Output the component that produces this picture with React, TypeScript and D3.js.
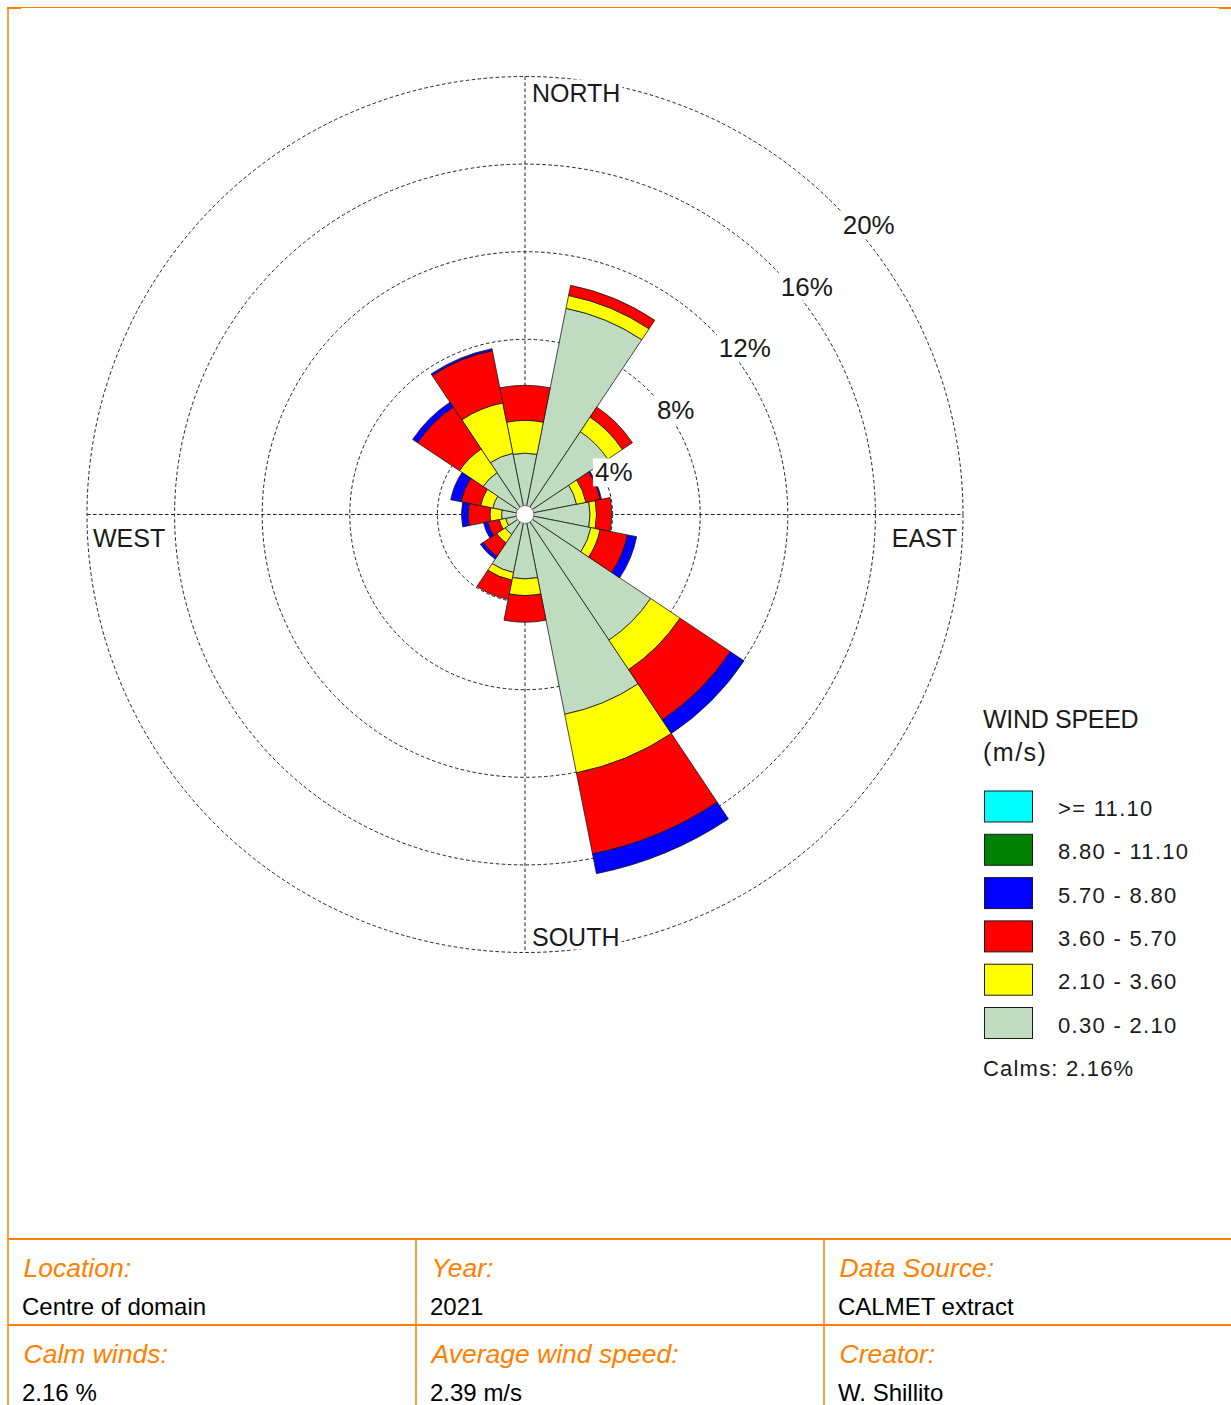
import React, { useEffect, useRef } from 'react';
import * as d3 from 'd3';

// Sixteen compass sectors, clockwise from north
const directions = ['N', 'NNE', 'NE', 'ENE', 'E', 'ESE', 'SE', 'SSE', 'S', 'SSW', 'SW', 'WSW', 'W', 'WNW', 'NW', 'NNW'];

// Wind speed classes (m/s), lowest first
const speedClasses = ['0.30 - 2.10', '2.10 - 3.60', '3.60 - 5.70', '5.70 - 8.80', '8.80 - 11.10', '>= 11.10'];
const classColors = ['#c0dcc0', '#ffff00', '#ff0000', '#0000ff', '#008000', '#00ffff'];

// Frequency (% of hours) per direction for each speed class
const freqClass1 = [2.8, 9.6, 4.55, 2.4, 2.97, 3.07, 6.9, 9.3, 2.94, 2.7, 1.09, 0.9, 1.07, 1.5, 2.3, 2.85];
const freqClass2 = [1.5, 0.6, 0.8, 0.44, 0.3, 0.43, 1.62, 2.73, 0.76, 0.36, 0.47, 0.3, 0.53, 0.57, 1.3, 2.35];
const freqClass3 = [1.6, 0.47, 0.55, 0.66, 0.69, 1.27, 2.76, 3.77, 1.22, 0.89, 0.74, 0.53, 1.0, 0.91, 2.3, 2.43];
const freqClass4 = [0, 0, 0, 0.06, 0, 0.43, 0.75, 0.92, 0, 0, 0.15, 0.2, 0.3, 0.48, 0.27, 0.09];
const freqClass5 = [0, 0, 0, 0, 0, 0, 0, 0, 0, 0, 0, 0, 0, 0, 0, 0];
const freqClass6 = [0, 0, 0, 0, 0, 0, 0, 0, 0, 0, 0, 0, 0, 0, 0, 0];

const ringTicks = [4, 8, 12, 16, 20];
const calmsPct = 2.16;

const infoLabels = ['Location:', 'Year:', 'Data Source:', 'Calm winds:', 'Average wind speed:', 'Creator:'];
const infoValues = ['Centre of domain', '2021', 'CALMET extract', '2.16 %', '2.39 m/s', 'W. Shillito'];

const W = 1231;
const H = 1405;
const FONT = '"Liberation Sans", Arial, Helvetica, sans-serif';
const ORANGE = '#ff7f00';
const INK = '#1a1a1a';

export default function App() {
  const ref = useRef<SVGSVGElement | null>(null);

  useEffect(() => {
    const svg = d3.select(ref.current);
    svg.selectAll('*').remove();

    const cx = 525;
    const cy = 514.5;
    const rMax = 438;
    const r = d3.scaleLinear().domain([0, 20]).range([0, rMax]);
    const step = (2 * Math.PI) / directions.length;

    // ---- frame ----
    const frame = svg.append('g');
    frame.append('line').attr('x1', 8).attr('x2', W).attr('y1', 7.5).attr('y2', 7.5)
      .attr('stroke', ORANGE).attr('stroke-width', 1.2);
    frame.append('line').attr('x1', 8).attr('x2', 8).attr('y1', 7).attr('y2', H)
      .attr('stroke', ORANGE).attr('stroke-width', 1.5);
    frame.append('rect').attr('x', 7).attr('y', 7).attr('width', 14).attr('height', 2).attr('fill', ORANGE);
    frame.append('rect').attr('x', W - 12).attr('y', 7).attr('width', 12).attr('height', 2).attr('fill', ORANGE);

    // ---- polar grid ----
    const plot = svg.append('g').attr('transform', `translate(${cx},${cy})`);
    const gridColor = '#1c1c30';
    const dash = '3.5,2.5';
    plot.selectAll('circle.ring').data(ringTicks).enter().append('circle')
      .attr('class', 'ring')
      .attr('r', (d) => r(d))
      .attr('fill', 'none')
      .attr('stroke', gridColor)
      .attr('stroke-width', 1)
      .attr('stroke-dasharray', dash);
    plot.append('line').attr('x1', 0).attr('x2', 0).attr('y1', -rMax).attr('y2', rMax)
      .attr('stroke', gridColor).attr('stroke-width', 1).attr('stroke-dasharray', dash);
    plot.append('line').attr('x1', -rMax).attr('x2', rMax).attr('y1', 0).attr('y2', 0)
      .attr('stroke', gridColor).attr('stroke-width', 1).attr('stroke-dasharray', dash);

    // ---- petals ----
    const keys = ['c1', 'c2', 'c3', 'c4', 'c5', 'c6'];
    const classArrays = [freqClass1, freqClass2, freqClass3, freqClass4, freqClass5, freqClass6];
    const rows = directions.map((dir, i) => {
      const o: Record<string, any> = { dir, i };
      keys.forEach((k, j) => { o[k] = classArrays[j][i]; });
      return o;
    });
    const stacked = d3.stack<any>().keys(keys)(rows);
    const arc = d3.arc<any>();

    stacked.forEach((layer, li) => {
      plot.append('g').selectAll('path')
        .data(layer.filter((d) => d[1] - d[0] > 0.001))
        .enter().append('path')
        .attr('d', (d: any) => arc({
          innerRadius: r(d[0]),
          outerRadius: r(d[1]),
          startAngle: d.data.i * step - step / 2,
          endAngle: d.data.i * step + step / 2,
        }) as string)
        .attr('fill', classColors[li])
        .attr('stroke', INK)
        .attr('stroke-width', 0.8)
        .attr('stroke-linejoin', 'round');
    });

    // calm circle in the middle
    plot.append('circle').attr('r', 9).attr('fill', '#ffffff').attr('stroke', '#777').attr('stroke-width', 1);

    // ---- ring and compass labels on white boxes ----
    const labelWithBg = (g: any, text: string, x: number, y: number, anchor: string, size: number) => {
      const grp = g.append('g');
      const bg = grp.append('rect').attr('fill', '#ffffff');
      const t = grp.append('text')
        .attr('x', x).attr('y', y)
        .attr('text-anchor', anchor)
        .attr('font-family', FONT)
        .attr('font-size', size)
        .attr('fill', INK)
        .text(text);
      const bb = (t.node() as SVGTextElement).getBBox();
      bg.attr('x', bb.x - 2).attr('y', bb.y + 1).attr('width', bb.width + 4).attr('height', bb.height - 2);
    };

    ringTicks.forEach((d) => {
      const ax = r(d) * Math.SQRT1_2;
      labelWithBg(plot, `${d}%`, ax + 8, -ax + 28.8, 'start', 26);
    });

    labelWithBg(plot, 'NORTH', 7, -rMax + 25, 'start', 25);
    labelWithBg(plot, 'SOUTH', 7, rMax - 7, 'start', 25);
    labelWithBg(plot, 'WEST', -rMax + 6, 32, 'start', 25);
    labelWithBg(plot, 'EAST', rMax - 6, 32, 'end', 25);

    // ---- legend ----
    const lg = svg.append('g');
    lg.append('text').attr('x', 983).attr('y', 727.5)
      .attr('font-family', FONT).attr('font-size', 25).attr('letter-spacing', -0.3)
      .attr('fill', INK).text('WIND SPEED');
    lg.append('text').attr('x', 983).attr('y', 761)
      .attr('font-family', FONT).attr('font-size', 25).attr('letter-spacing', 1.5)
      .attr('fill', INK).text('(m/s)');

    const legendOrder = d3.range(speedClasses.length).reverse();
    const ly = d3.scaleLinear().domain([0, 1]).range([791, 834.3]);
    legendOrder.forEach((ci, k) => {
      const y = ly(k);
      lg.append('rect').attr('x', 984.5).attr('y', y).attr('width', 48).attr('height', 31)
        .attr('fill', classColors[ci]).attr('stroke', INK).attr('stroke-width', 1);
      lg.append('text').attr('x', 1058).attr('y', y + 25)
        .attr('font-family', FONT).attr('font-size', 22).attr('letter-spacing', 1.3)
        .attr('fill', INK).text(speedClasses[ci]);
    });
    lg.append('text').attr('x', 983).attr('y', 1076)
      .attr('font-family', FONT).attr('font-size', 22).attr('letter-spacing', 1.2)
      .attr('fill', INK).text(`Calms: ${calmsPct.toFixed(2)}%`);

    // ---- info table ----
    const tb = svg.append('g');
    const colX = [8, 416, 824];
    const rowY = [1239, 1325];
    rowY.forEach((y) => {
      tb.append('line').attr('x1', 8).attr('x2', W).attr('y1', y).attr('y2', y)
        .attr('stroke', ORANGE).attr('stroke-width', 2);
    });
    colX.slice(1).forEach((x) => {
      tb.append('line').attr('x1', x).attr('x2', x).attr('y1', 1239).attr('y2', H)
        .attr('stroke', ORANGE).attr('stroke-width', 1.5);
    });
    infoLabels.forEach((lab, i) => {
      const col = i % 3;
      const row = Math.floor(i / 3);
      const x = colX[col] + 15;
      const top = rowY[row];
      tb.append('text').attr('x', x + 0.5).attr('y', top + 37.5)
        .attr('font-family', FONT).attr('font-size', 26.5).attr('font-style', 'italic')
        .attr('fill', ORANGE).text(lab);
      tb.append('text').attr('x', x - 1).attr('y', top + 75.5)
        .attr('font-family', FONT).attr('font-size', 24)
        .attr('fill', '#000').text(infoValues[i]);
    });
  }, []);

  return (
    <svg
      ref={ref}
      width={W}
      height={H}
      viewBox={`0 0 ${W} ${H}`}
      style={{ position: 'absolute', left: 0, top: 0, background: '#ffffff' }}
    />
  );
}
